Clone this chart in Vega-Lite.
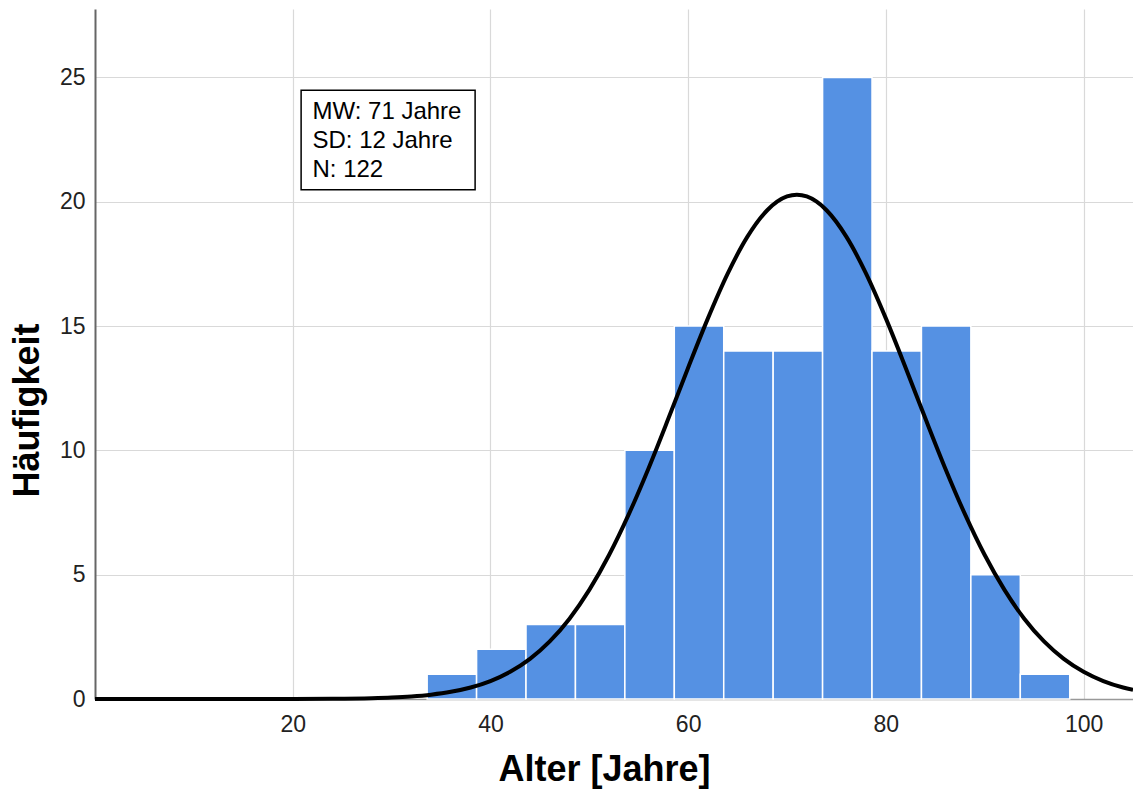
{
  "$schema": "https://vega.github.io/schema/vega-lite/v6.json",
  "width": 1038,
  "height": 690,
  "autosize": "none",
  "padding": {"left": 95, "top": 9, "right": 0, "bottom": 90},
  "background": "white",
  "config": {
    "view": {"stroke": null},
    "font": "Liberation Sans",
    "axis": {
      "labelFont": "Liberation Sans",
      "titleFont": "Liberation Sans",
      "labelFontSize": 23,
      "labelColor": "#222222",
      "titleFontSize": 36,
      "titleFontWeight": "bold",
      "titleColor": "#000000",
      "gridColor": "#d9d9d9",
      "gridWidth": 1.2,
      "ticks": false
    }
  },
  "datasets": {
    "bins": [
      {"start": 33.6, "end": 38.6, "count": 1},
      {"start": 38.6, "end": 43.6, "count": 2},
      {"start": 43.6, "end": 48.6, "count": 3},
      {"start": 48.6, "end": 53.6, "count": 3},
      {"start": 53.6, "end": 58.6, "count": 10},
      {"start": 58.6, "end": 63.6, "count": 15},
      {"start": 63.6, "end": 68.6, "count": 14},
      {"start": 68.6, "end": 73.6, "count": 14},
      {"start": 73.6, "end": 78.6, "count": 25},
      {"start": 78.6, "end": 83.6, "count": 14},
      {"start": 83.6, "end": 88.6, "count": 15},
      {"start": 88.6, "end": 93.6, "count": 5},
      {"start": 93.6, "end": 98.6, "count": 1}
    ],
    "curve": [
      {"x": 0, "y": 0},
      {"x": 10, "y": 0.00005},
      {"x": 16, "y": 0.0006},
      {"x": 20, "y": 0.0024},
      {"x": 24, "y": 0.0094},
      {"x": 28, "y": 0.033},
      {"x": 30, "y": 0.059},
      {"x": 32, "y": 0.103},
      {"x": 34, "y": 0.175},
      {"x": 36, "y": 0.288},
      {"x": 38, "y": 0.462},
      {"x": 40, "y": 0.721},
      {"x": 42, "y": 1.094},
      {"x": 44, "y": 1.613},
      {"x": 46, "y": 2.315},
      {"x": 48, "y": 3.231},
      {"x": 50, "y": 4.387},
      {"x": 52, "y": 5.79},
      {"x": 54, "y": 7.435},
      {"x": 56, "y": 9.284},
      {"x": 58, "y": 11.278},
      {"x": 60, "y": 13.324},
      {"x": 62, "y": 15.307},
      {"x": 64, "y": 17.107},
      {"x": 66, "y": 18.595},
      {"x": 68, "y": 19.656},
      {"x": 70, "y": 20.21},
      {"x": 71, "y": 20.28},
      {"x": 72, "y": 20.21},
      {"x": 74, "y": 19.656},
      {"x": 76, "y": 18.595},
      {"x": 78, "y": 17.107},
      {"x": 80, "y": 15.307},
      {"x": 82, "y": 13.324},
      {"x": 84, "y": 11.278},
      {"x": 86, "y": 9.284},
      {"x": 88, "y": 7.435},
      {"x": 90, "y": 5.79},
      {"x": 92, "y": 4.387},
      {"x": 94, "y": 3.231},
      {"x": 96, "y": 2.315},
      {"x": 98, "y": 1.613},
      {"x": 100, "y": 1.094},
      {"x": 102, "y": 0.721},
      {"x": 104, "y": 0.462},
      {"x": 105, "y": 0.366}
    ],
    "stats": [
      {"label": "MW: 71 Jahre\nSD: 12 Jahre\nN: 122"}
    ]
  },
  "layer": [
    {
      "data": {"name": "bins"},
      "mark": {"type": "rect", "color": "#5591e3", "stroke": "#ffffff", "strokeWidth": 1.5},
      "encoding": {
        "x": {
          "field": "start",
          "type": "quantitative",
          "scale": {"domain": [0, 105], "nice": false, "zero": false},
          "axis": {
            "title": "Alter [Jahre]",
            "values": [20, 40, 60, 80, 100],
            "grid": true,
            "domainColor": "#999999",
            "domainWidth": 1.5,
            "labelPadding": 14,
            "titlePadding": 16,
            "titleX": 509
          }
        },
        "x2": {"field": "end"},
        "y": {
          "field": "count",
          "type": "quantitative",
          "scale": {"domain": [0, 27.75], "nice": false},
          "axis": {
            "title": "Häufigkeit",
            "values": [0, 5, 10, 15, 20, 25],
            "grid": true,
            "domainColor": "#666666",
            "domainWidth": 2,
            "labelPadding": 10,
            "titlePadding": 13,
            "titleY": 401
          }
        },
        "y2": {"datum": 0}
      }
    },
    {
      "data": {"name": "curve"},
      "mark": {"type": "line", "color": "#000000", "strokeWidth": 4, "interpolate": "monotone"},
      "encoding": {
        "x": {"field": "x", "type": "quantitative"},
        "y": {"field": "y", "type": "quantitative"}
      }
    },
    {
      "data": {"name": "stats"},
      "mark": {"type": "rect", "fill": "#ffffff", "stroke": "#000000", "strokeWidth": 1.5},
      "encoding": {
        "x": {"datum": 20.85, "type": "quantitative"},
        "x2": {"datum": 38.45},
        "y": {"datum": 24.48, "type": "quantitative"},
        "y2": {"datum": 20.48}
      }
    },
    {
      "data": {"name": "stats"},
      "mark": {"type": "text", "align": "left", "baseline": "middle", "fontSize": 24, "lineHeight": 29, "lineBreak": "\n", "color": "#000000", "font": "Liberation Sans"},
      "encoding": {
        "x": {"datum": 22.0, "type": "quantitative"},
        "y": {"datum": 23.62, "type": "quantitative"},
        "text": {"field": "label", "type": "nominal"}
      }
    }
  ]
}
